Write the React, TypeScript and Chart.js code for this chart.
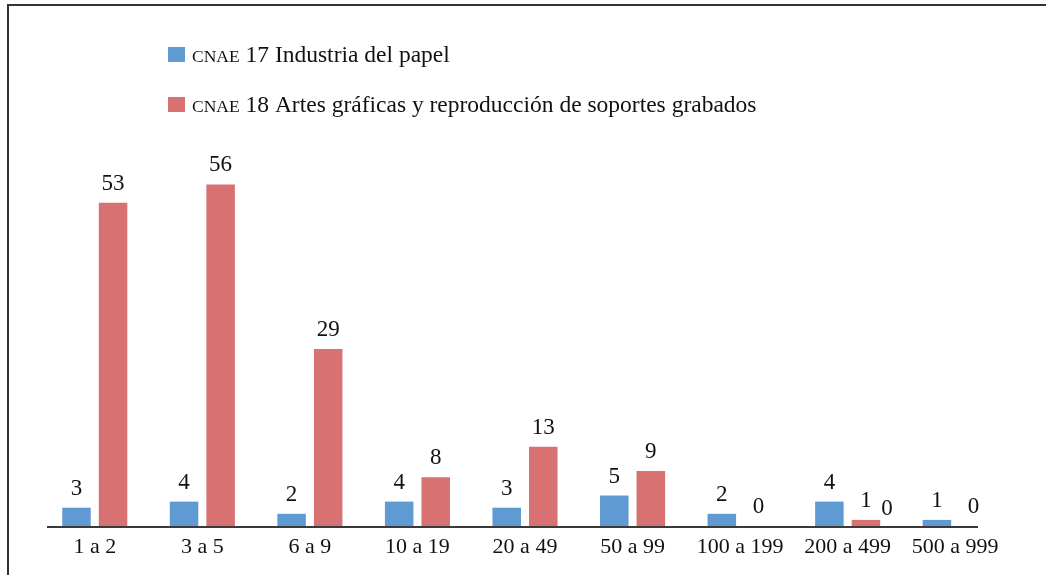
import React, { useEffect, useRef } from "react";
import { Chart, registerables } from "chart.js";

Chart.register(...registerables);

const categories = ["1 a 2", "3 a 5", "6 a 9", "10 a 19", "20 a 49", "50 a 99", "100 a 199", "200 a 499", "500 a 999"];
const seriesNames = ["CNAE 17 Industria del papel", "CNAE 18 Artes gráficas y reproducción de soportes grabados"];
const cnae17 = [3, 4, 2, 4, 3, 5, 2, 4, 1];
const cnae18 = [53, 56, 29, 8, 13, 9, 0, 1, 0];
// stray extra label printed beside the red bar of "200 a 499" in the original
const extraLabels = [{ dataset: 1, index: 7, text: "0" }];
const yMax = 60;

const BLUE = "#5F9AD3";
const RED = "#D87172";
const FONT = "'Liberation Serif', 'Times New Roman', serif";

const labelsPlugin = {
  id: "valueLabels",
  afterDatasetsDraw(chart: any) {
    const ctx = chart.ctx;
    ctx.save();
    ctx.fillStyle = "#111";
    ctx.font = `23px ${FONT}`;
    ctx.textAlign = "center";
    ctx.textBaseline = "alphabetic";
    chart.data.datasets.forEach((ds: any, di: number) => {
      const meta = chart.getDatasetMeta(di);
      meta.data.forEach((bar: any, i: number) => {
        ctx.fillText(String(ds.data[i]), bar.x, bar.y - 13);
      });
    });
    extraLabels.forEach((e) => {
      const bar: any = chart.getDatasetMeta(e.dataset).data[e.index];
      const base = chart.scales.y.getPixelForValue(0);
      ctx.fillText(e.text, bar.x + 21, base - 11);
    });
    // baseline axis line
    const a = chart.chartArea;
    const yb = chart.scales.y.getPixelForValue(0);
    ctx.strokeStyle = "#3a3a3a";
    ctx.lineWidth = 2;
    ctx.beginPath();
    ctx.moveTo(a.left + 6, yb + 1);
    ctx.lineTo(a.right - 31, yb + 1);
    ctx.stroke();
    // legend
    chart.data.datasets.forEach((ds: any, di: number) => {
      const cy = 54 + di * 50;
      ctx.fillStyle = ds.backgroundColor;
      ctx.fillRect(168, cy - 7, 17, 15);
      const label: string = ds.label;
      const sp = label.indexOf(" ");
      const first = label.slice(0, sp);
      const rest = label.slice(sp);
      ctx.fillStyle = "#111";
      ctx.textAlign = "left";
      ctx.font = `17.5px ${FONT}`;
      ctx.fillText(first, 192, cy + 8);
      const w = ctx.measureText(first).width;
      ctx.font = `23.5px ${FONT}`;
      ctx.fillText(rest, 192 + w, cy + 8);
    });
    ctx.restore();
  },
};

export default function App() {
  const ref = useRef<HTMLCanvasElement>(null);
  useEffect(() => {
    if (!ref.current) return;
    const chart = new Chart(ref.current, {
      type: "bar",
      data: {
        labels: categories,
        datasets: [
          { label: seriesNames[0], data: cnae17, backgroundColor: BLUE },
          { label: seriesNames[1], data: cnae18, backgroundColor: RED },
        ],
      },
      options: {
        responsive: false,
        animation: false,
        devicePixelRatio: 1,
        layout: { padding: { left: 41, right: 37, top: 160, bottom: 0 } },
        datasets: { bar: { categoryPercentage: 0.68, barPercentage: 0.78 } },
        plugins: { legend: { display: false }, tooltip: { enabled: false } },
        scales: {
          x: {
            grid: { display: false, drawTicks: false },
            border: { display: false },
            ticks: { color: "#111", font: { family: FONT, size: 22 }, padding: 8, maxRotation: 0, autoSkip: false },
            afterFit: (s: any) => {
              s.height = 49;
            },
          },
          y: {
            display: false,
            min: 0,
            max: yMax,
            afterFit: (s: any) => {
              s.width = 0;
            },
          },
        },
      },
      plugins: [labelsPlugin],
    });
    return () => chart.destroy();
  }, []);
  return (
    <div style={{ position: "fixed", left: 0, top: 0, width: 1046, height: 575, background: "#fff" }}>
      <div
        style={{
          position: "absolute",
          left: 7,
          top: 4,
          right: 0,
          bottom: 0,
          borderTop: "2px solid #333",
          borderLeft: "2px solid #333",
        }}
      />
      <canvas ref={ref} width={1046} height={575} style={{ position: "absolute", left: 0, top: 0 }} />
    </div>
  );
}
